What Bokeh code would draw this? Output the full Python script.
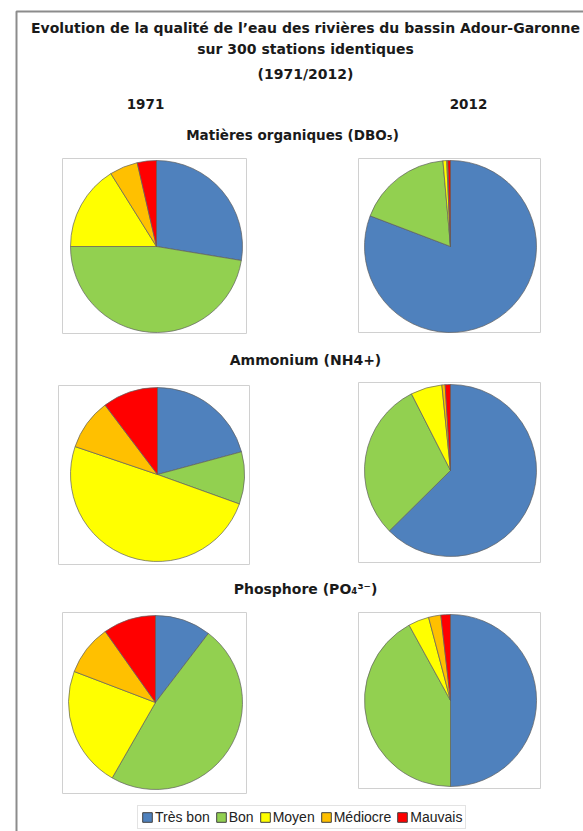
import math
from bokeh.plotting import figure
from bokeh.models import Range1d, Label, Legend, LegendItem, ColumnDataSource
from bokeh.embed import file_html
from bokeh.resources import INLINE

# ---------------- data ----------------
categories = ["Très bon", "Bon", "Moyen", "Médiocre", "Mauvais"]
colors = ["#4F81BD", "#92D050", "#FFFF00", "#FFC000", "#FF0000"]

dbo5_1971 = [27.6, 47.4, 16.1, 5.3, 3.6]
dbo5_2012 = [80.8, 17.8, 0.7, 0.2, 0.5]
nh4_1971 = [20.8, 9.7, 49.7, 9.5, 10.3]
nh4_2012 = [62.6, 29.9, 5.9, 0.6, 1.0]
po4_1971 = [10.4, 47.9, 22.5, 9.4, 9.8]
po4_2012 = [50.0, 42.0, 3.9, 2.3, 1.8]

title_lines = ["Evolution de la qualité de l’eau des rivières du bassin Adour-Garonne",
               "sur 300 stations identiques", "(1971/2012)"]
years = ["1971", "2012"]
sections = ["Matières organiques (DBO₅)", "Ammonium (NH4+)", "Phosphore (PO₄³⁻)"]

# ---------------- layout (screen pixel coordinates) ----------------
W, H = 583, 831
def Y(py):  # screen y -> data y
    return H - py

p = figure(width=W, height=H, x_range=Range1d(0, W), y_range=Range1d(0, H),
           output_backend="svg", toolbar_location=None, min_border=0,
           x_axis_location=None, y_axis_location=None)
p.grid.visible = False
p.outline_line_color = None
p.background_fill_color = "white"

# outer frame
p.quad(left=[16], right=[640], top=[Y(11)], bottom=[Y(900)],
       fill_color=None, line_color="#8c8c8c", line_width=2)

pies = [
    (dbo5_1971, 156, 246, 86, (62, 246, 158, 333)),
    (dbo5_2012, 450, 246, 86, (358, 540, 158, 332)),
    (nh4_1971, 157, 474, 87, (58, 249, 385, 564)),
    (nh4_2012, 450, 470, 86, (358, 540, 382, 562)),
    (po4_1971, 155, 702, 87, (62, 246, 612, 793)),
    (po4_2012, 450, 700, 86, (358, 540, 612, 788)),
]

for vals, cx, cy, r, (bl, br, bt, bb) in pies:
    p.quad(left=[bl], right=[br], top=[Y(bt)], bottom=[Y(bb)],
           fill_color="white", line_color="#d0d0d0", line_width=1)
    total = sum(vals)
    starts, ends = [], []
    acc = 0.0
    for v in vals:
        starts.append(math.pi / 2 - acc / total * 2 * math.pi)
        acc += v
        ends.append(math.pi / 2 - acc / total * 2 * math.pi)
    src = ColumnDataSource(dict(start=starts, end=ends, color=colors, cat=categories))
    p.wedge(x=cx, y=Y(cy), radius=r, start_angle="start", end_angle="end",
            direction="clock", fill_color="color", line_color="#5f5f5f",
            line_alpha=0.7, line_width=1, source=src)

def add_text(txt, x, py, size="13.5px", align="center"):
    p.add_layout(Label(x=x, y=Y(py), text=txt, text_font="DejaVu Sans",
                       text_font_style="bold", text_font_size=size,
                       text_align=align, text_baseline="middle",
                       text_color="#1a1a1a"))

add_text(title_lines[0], 305, 27, size="14px")
add_text(title_lines[1], 305, 48, size="14px")
add_text(title_lines[2], 305, 73, size="14px")
add_text(years[0], 145, 103)
add_text(years[1], 468, 103)
add_text(sections[0], 292, 134)
add_text(sections[1], 305, 359, size="14px")
add_text(sections[2], 305, 588, size="14px")

# legend via off-canvas proxy squares (NaN -> not drawn)
nan = float("nan")
items = []
for c, cat in zip(colors, categories):
    r = p.quad(left=[nan], right=[nan], top=[nan], bottom=[nan],
               fill_color=c, line_color="#404040")
    items.append(LegendItem(label=cat, renderers=[r]))
legend = Legend(items=items, orientation="horizontal", location=(137, 2),
                label_text_font="Liberation Sans", label_text_font_size="14px",
                label_text_color="#222222",
                glyph_width=12, glyph_height=12, label_standoff=2, spacing=5,
                padding=3, margin=0, border_line_color="#c8c8c8",
                background_fill_color="white", label_height=14)
p.add_layout(legend, "center")

open("out.html", "w").write(file_html(p, INLINE))
